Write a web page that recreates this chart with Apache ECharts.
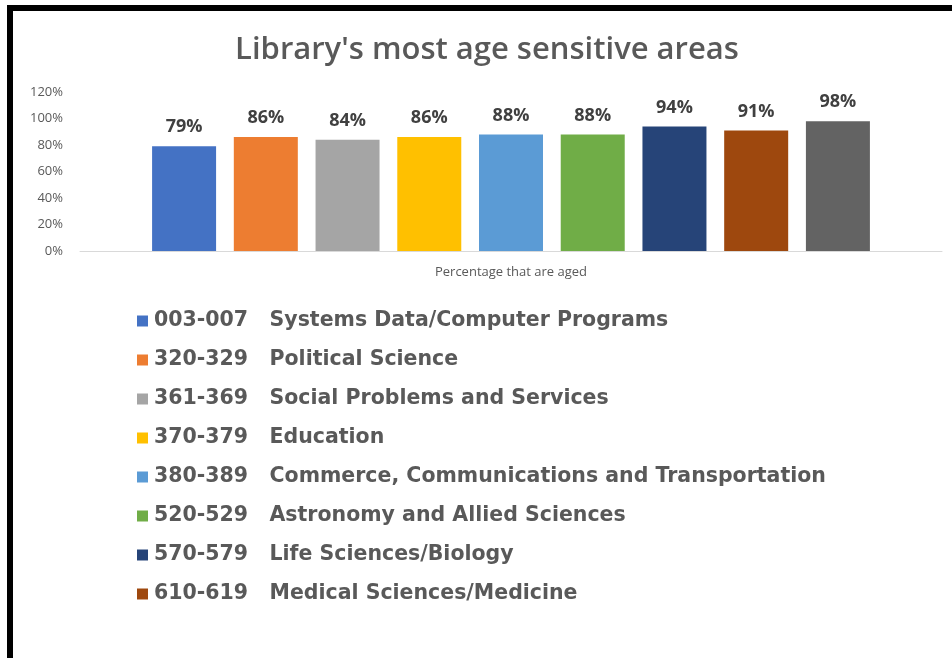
<!DOCTYPE html>
<html>
<head>
<meta charset="utf-8">
<script src="https://cdn.jsdelivr.net/npm/echarts@6/dist/echarts.min.js"></script>
<style>
  html, body { margin: 0; padding: 0; background: #fff; }
  #chart { width: 952px; height: 658px; }
</style>
</head>
<body>
<div id="chart"></div>
<script>
// Dewey ranges and the share of each collection that is aged
const categories = ['Percentage that are aged'];
const areaNames = [
  '003-007   Systems Data/Computer Programs',
  '320-329   Political Science',
  '361-369   Social Problems and Services',
  '370-379   Education',
  '380-389   Commerce, Communications and Transportation',
  '520-529   Astronomy and Allied Sciences',
  '570-579   Life Sciences/Biology',
  '610-619   Medical Sciences/Medicine',
  'Other area'
];
const agedPercent = [79, 86, 84, 86, 88, 88, 94, 91, 98];
const areaColors = ['#4472C4', '#ED7D31', '#A5A5A5', '#FFC000', '#5B9BD5', '#70AD47', '#264478', '#9E480E', '#636363'];
const yTicks = [0, 20, 40, 60, 80, 100, 120];

const chart = echarts.init(document.getElementById('chart'));

const series = areaNames.map((name, i) => ({
  name: name,
  type: 'bar',
  data: [agedPercent[i]],
  barWidth: 64,
  barGap: '27.7%',
  itemStyle: { color: areaColors[i] },
  label: {
    show: true,
    position: 'top',
    distance: 10,
    formatter: p => p.value + '%',
    fontFamily: 'Open Sans',
    fontWeight: 'bold',
    fontSize: 18,
    color: '#404040'
  }
}));

chart.setOption({
  animation: false,
  backgroundColor: '#fff',
  title: {
    text: "Library's most age sensitive areas",
    left: 482,
    textAlign: 'center',
    top: 30,
    textStyle: {
      fontFamily: 'Open Sans',
      fontWeight: 600,
      fontSize: 31,
      color: '#595959'
    }
  },
  graphic: [
    { type: 'rect', shape: { x: 7, y: 5, width: 945, height: 6 }, style: { fill: '#000' } },
    { type: 'rect', shape: { x: 7, y: 5, width: 6, height: 653 }, style: { fill: '#000' } }
  ],
  grid: { left: 80, right: 10, top: 92, bottom: 407 },
  xAxis: {
    type: 'category',
    data: categories,
    axisLine: { lineStyle: { color: '#D9D9D9', width: 1 } },
    axisTick: { show: false },
    axisLabel: {
      margin: 15,
      fontFamily: 'Open Sans',
      fontSize: 13,
      color: '#595959'
    }
  },
  yAxis: {
    type: 'value',
    min: yTicks[0],
    max: yTicks[yTicks.length - 1],
    interval: 20,
    splitLine: { show: false },
    axisLine: { show: false },
    axisTick: { show: false },
    axisLabel: {
      margin: 17,
      formatter: v => v + '%',
      fontFamily: 'Open Sans',
      fontSize: 13,
      color: '#595959'
    }
  },
  legend: {
    data: areaNames.slice(0, 8),
    orient: 'vertical',
    left: 132,
    top: 305,
    itemWidth: 11,
    itemHeight: 11,
    itemGap: 17,
    icon: 'rect',
    textStyle: {
      fontFamily: 'DejaVu Sans',
      fontWeight: 'bold',
      fontSize: 20.5,
      lineHeight: 22,
      color: '#595959',
      padding: [0, 0, 0, 1]
    }
  },
  series: series
});
</script>
</body>
</html>
